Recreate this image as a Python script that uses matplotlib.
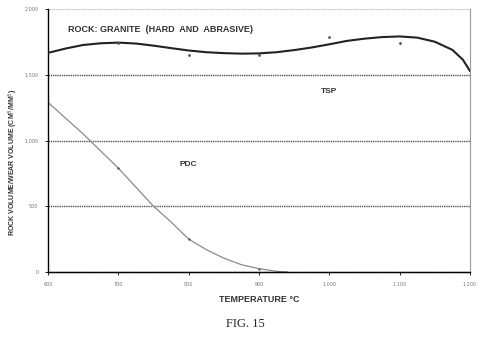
import matplotlib
matplotlib.use('Agg')
import matplotlib.pyplot as plt

# TSP trend line (every 25 deg)
tsp_temp = [600, 625, 650, 675, 700, 725, 750, 775, 800, 825, 850, 875, 900,
            925, 950, 975, 1000, 1025, 1050, 1075, 1100, 1125, 1150, 1175, 1190, 1200]
tsp_vol = [1667, 1700, 1727, 1740, 1745, 1738, 1722, 1703, 1685, 1672, 1665, 1661, 1663,
           1672, 1688, 1708, 1732, 1758, 1775, 1787, 1792, 1783, 1752, 1690, 1615, 1530]
# TSP measured points
tsp_pt_temp = [700, 800, 900, 1000, 1100]
tsp_pt_vol = [1745, 1652, 1649, 1790, 1740]

# PDC curve
pdc_temp = [600, 625, 650, 675, 700, 725, 750, 775, 800, 825, 850, 875, 900, 925, 940]
pdc_vol = [1290, 1170, 1050, 920, 790, 645, 500, 380, 250, 170, 105, 55, 25, 5, 0]
pdc_pt_temp = [700, 800, 900]
pdc_pt_vol = [790, 250, 25]

yticks = [0, 500, 1000, 1500, 2000]
ytick_labels = ['0', '500', '1,000', '1,500', '2,000']
xticks = [600, 700, 800, 900, 1000, 1100, 1200]
xtick_labels = ['600', '700', '800', '900', '1,000', '1,100', '1,200']

fig = plt.figure(figsize=(4.9, 3.37), dpi=100)
ax = fig.add_axes([0.098, 0.193, 0.861, 0.78])

for v in yticks[1:-1]:
    ax.axhline(v, color='#555555', lw=1.0, ls=(0, (1, 0.6)), zorder=1)
ax.axhline(2000, color='#bbbbbb', lw=0.8, ls=(0, (1, 0.6)), zorder=1)

ax.plot(pdc_temp, pdc_vol, color='#8a8a8a', lw=0.9, zorder=2)
ax.plot(pdc_pt_temp, pdc_pt_vol, ls='none', marker='.', ms=1.5, color='#555555', zorder=3)
ax.plot(tsp_temp, tsp_vol, color='#222222', lw=1.5, zorder=3)
ax.plot(tsp_pt_temp, tsp_pt_vol, ls='none', marker='.', ms=2, color='#555555', zorder=3)

ax.set_xlim(600, 1200)
ax.set_ylim(0, 2000)
ax.set_xticks(xticks)
ax.set_xticklabels(xtick_labels)
ax.set_yticks(yticks)
ax.set_yticklabels(ytick_labels)
ax.tick_params(labelsize=3.5, labelcolor='#777777', length=2, width=0.6, pad=5)

ax.spines['top'].set_visible(False)
ax.spines['right'].set_color('#999999')
ax.spines['right'].set_linewidth(0.8)
ax.spines['left'].set_linewidth(1.0)
ax.spines['bottom'].set_linewidth(1.0)
ax.spines['bottom'].set_linestyle((0, (1, 0.5)))

bold = dict(family='Liberation Sans', weight='bold', color='#333333')
ax.text(760, 1845, 'ROCK: GRANITE  (HARD  AND  ABRASIVE)', fontsize=6.5,
        ha='center', va='center', **bold)
ax.text(1000, 1372, 'TSP', fontsize=6, ha='center', va='center', **bold)
ax.text(800, 820, 'PDC', fontsize=6, ha='center', va='center', **bold)

ax.set_ylabel('ROCK VOLUME/WEAR VOLUME (CM$^3$/MM$^3$)', fontsize=5, **bold)
ax.yaxis.set_label_coords(-0.066, 0.418)
ax.set_xlabel('TEMPERATURE °C', fontsize=6.5, labelpad=6, **bold)

fig.text(0.5, 0.04, 'FIG. 15', fontsize=9, family='Liberation Serif',
         ha='center', va='center', color='#222222')

fig.savefig('out.png', dpi=100)
